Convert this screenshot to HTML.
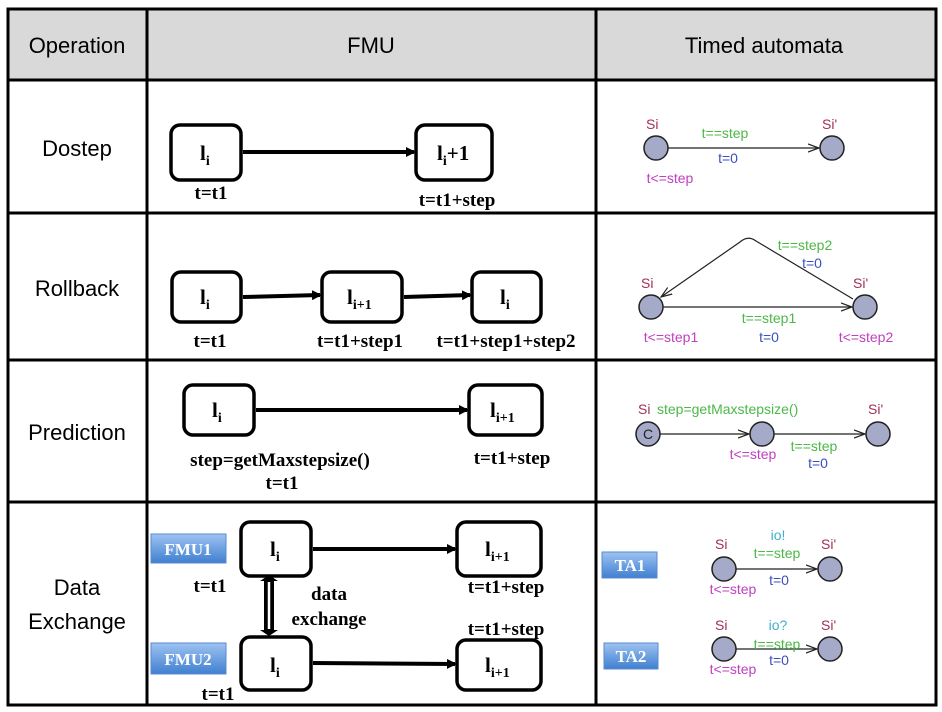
<!DOCTYPE html>
<html><head><meta charset="utf-8"><style>
html,body{margin:0;padding:0;background:#fff;}
svg{display:block;}
.h{font-family:"Liberation Sans",sans-serif;font-size:22px;fill:#000;}
.s{font-family:"Liberation Serif",serif;font-weight:bold;font-size:19px;fill:#000;}
.b{font-family:"Liberation Serif",serif;font-weight:bold;font-size:21px;fill:#000;}
.sub{font-size:14px;}
.ta{font-family:"Liberation Sans",sans-serif;font-size:14px;}
.r{fill:#a0305a;} .g{fill:#4cb848;} .bl{fill:#3a4fc0;} .p{fill:#c040c0;} .c{fill:#40b0c8;}
.box{fill:#fff;stroke:#000;stroke-width:3.5;}
.ar{stroke:#000;stroke-width:4;fill:none;}
.st{fill:#a4aac8;stroke:#222;stroke-width:1.5;}
.tl{stroke:#222;stroke-width:1.2;fill:none;}
.lab{font-family:"Liberation Serif",serif;font-weight:bold;font-size:17px;fill:#fff;}
</style></head><body>
<svg width="942" height="712" viewBox="0 0 942 712" xmlns="http://www.w3.org/2000/svg">
<defs>
<marker id="ah" markerWidth="10" markerHeight="10" refX="8" refY="5" orient="auto" markerUnits="userSpaceOnUse"><path d="M0,0 L10,5 L0,10 z" fill="#000"/></marker>
<marker id="ta" markerWidth="12" markerHeight="10" refX="11" refY="5" orient="auto" markerUnits="userSpaceOnUse"><path d="M0,1 L11,5 L0,9" fill="none" stroke="#222" stroke-width="1.2"/></marker>
<linearGradient id="bg" x1="0" y1="0" x2="0" y2="1"><stop offset="0" stop-color="#9ec3f2"/><stop offset="1" stop-color="#3f7fd0"/></linearGradient>
</defs>
<rect x="8" y="9" width="928" height="71" fill="#d9d9d9"/>
<g stroke="#000" stroke-width="3" fill="none">
<rect x="8" y="9" width="928" height="696"/>
<line x1="147" y1="9" x2="147" y2="705"/>
<line x1="596" y1="9" x2="596" y2="705"/>
<line x1="8" y1="80" x2="936" y2="80"/>
<line x1="8" y1="213" x2="936" y2="213"/>
<line x1="8" y1="360" x2="936" y2="360"/>
<line x1="8" y1="502" x2="936" y2="502"/>
</g>
<text class="h" x="77" y="53" text-anchor="middle">Operation</text>
<text class="h" x="371" y="53" text-anchor="middle">FMU</text>
<text class="h" x="764" y="53" text-anchor="middle">Timed automata</text>
<text class="h" x="77" y="156" text-anchor="middle">Dostep</text>
<text class="h" x="77" y="296" text-anchor="middle">Rollback</text>
<text class="h" x="77" y="440" text-anchor="middle">Prediction</text>
<text class="h" x="77" y="595" text-anchor="middle">Data</text>
<text class="h" x="77" y="629" text-anchor="middle">Exchange</text>

<!-- Dostep FMU -->
<rect class="box" x="171" y="125" width="70" height="55" rx="9"/>
<rect class="box" x="416" y="125" width="76" height="55" rx="9"/>
<line class="ar" x1="243" y1="152" x2="414" y2="152" marker-end="url(#ah)"/>
<text class="b" x="200" y="160">l<tspan class="sub" dy="5">i</tspan></text>
<text class="b" x="437" y="160">l<tspan class="sub" dy="5">i</tspan><tspan dy="-5">+1</tspan></text>
<text class="s" x="211" y="199" text-anchor="middle">t=t1</text>
<text class="s" x="457" y="206" text-anchor="middle">t=t1+step</text>

<!-- Rollback FMU -->
<rect class="box" x="172" y="272" width="69" height="50" rx="9"/>
<rect class="box" x="322" y="272" width="80" height="50" rx="9"/>
<rect class="box" x="472" y="272" width="69" height="50" rx="9"/>
<line class="ar" x1="243" y1="297" x2="320" y2="295" marker-end="url(#ah)"/>
<line class="ar" x1="404" y1="297" x2="470" y2="295" marker-end="url(#ah)"/>
<text class="b" x="200" y="304">l<tspan class="sub" dy="5">i</tspan></text>
<text class="b" x="347" y="304">l<tspan class="sub" dy="5">i+1</tspan></text>
<text class="b" x="500" y="304">l<tspan class="sub" dy="5">i</tspan></text>
<text class="s" x="210" y="347" text-anchor="middle">t=t1</text>
<text class="s" x="360" y="347" text-anchor="middle">t=t1+step1</text>
<text class="s" x="506" y="347" text-anchor="middle">t=t1+step1+step2</text>

<!-- Prediction FMU -->
<rect class="box" x="184" y="385" width="70" height="50" rx="9"/>
<rect class="box" x="469" y="385" width="73" height="50" rx="9"/>
<line class="ar" x1="256" y1="410" x2="467" y2="410" marker-end="url(#ah)"/>
<text class="b" x="212" y="417">l<tspan class="sub" dy="5">i</tspan></text>
<text class="b" x="490" y="417">l<tspan class="sub" dy="5">i+1</tspan></text>
<text class="s" x="280" y="466" text-anchor="middle">step=getMaxstepsize()</text>
<text class="s" x="282" y="489" text-anchor="middle">t=t1</text>
<text class="s" x="512" y="464" text-anchor="middle">t=t1+step</text>

<!-- Data exchange FMU -->
<rect x="151" y="534" width="75" height="29" fill="url(#bg)" stroke="#5a8ad0"/>
<text class="lab" x="188" y="555" text-anchor="middle">FMU1</text>
<rect x="151" y="643" width="75" height="31" fill="url(#bg)" stroke="#5a8ad0"/>
<text class="lab" x="188" y="665" text-anchor="middle">FMU2</text>
<rect class="box" x="241" y="522" width="70" height="54" rx="9"/>
<rect class="box" x="457" y="522" width="84" height="54" rx="9"/>
<rect class="box" x="241" y="637" width="70" height="53" rx="9"/>
<rect class="box" x="457" y="640" width="84" height="50" rx="9"/>
<line class="ar" x1="313" y1="549" x2="455" y2="549" marker-end="url(#ah)"/>
<line class="ar" x1="313" y1="663" x2="455" y2="664" marker-end="url(#ah)"/>
<text class="b" x="270" y="556">l<tspan class="sub" dy="5">i</tspan></text>
<text class="b" x="485" y="556">l<tspan class="sub" dy="5">i+1</tspan></text>
<text class="b" x="270" y="672">l<tspan class="sub" dy="5">i</tspan></text>
<text class="b" x="485" y="672">l<tspan class="sub" dy="5">i+1</tspan></text>
<g fill="#000"><path d="M260,581 L269,575 L278,581 L274,581 L274,630 L278,630 L269,636 L260,630 L264,630 L264,581 z"/></g>
<line x1="269" y1="582" x2="269" y2="629" stroke="#fff" stroke-width="2.5"/>
<text class="s" x="210" y="592" text-anchor="middle">t=t1</text>
<text class="s" x="218" y="700" text-anchor="middle">t=t1</text>
<text class="s" x="329" y="600" text-anchor="middle">data</text>
<text class="s" x="329" y="625" text-anchor="middle">exchange</text>
<text class="s" x="506" y="593" text-anchor="middle">t=t1+step</text>
<text class="s" x="506" y="635" text-anchor="middle">t=t1+step</text>

<!-- TA Dostep -->
<line class="tl" x1="668" y1="148" x2="819" y2="148" marker-end="url(#ta)"/>
<circle class="st" cx="656" cy="148" r="12"/>
<circle class="st" cx="832" cy="148" r="12"/>
<text class="ta r" x="646" y="129">Si</text>
<text class="ta r" x="822" y="129">Si'</text>
<text class="ta g" x="725" y="138" text-anchor="middle">t==step</text>
<text class="ta bl" x="728" y="163" text-anchor="middle">t=0</text>
<text class="ta p" x="670" y="183" text-anchor="middle">t&lt;=step</text>

<!-- TA Rollback -->
<line class="tl" x1="663" y1="307" x2="852" y2="307" marker-end="url(#ta)"/>
<path class="tl" d="M853,299 L756,241 Q748,235 740,242 L661,297" marker-end="url(#ta)"/>
<circle class="st" cx="651" cy="307" r="12"/>
<circle class="st" cx="865" cy="307" r="12"/>
<text class="ta r" x="641" y="288">Si</text>
<text class="ta r" x="853" y="288">Si'</text>
<text class="ta g" x="805" y="250" text-anchor="middle">t==step2</text>
<text class="ta bl" x="812" y="268" text-anchor="middle">t=0</text>
<text class="ta g" x="769" y="323" text-anchor="middle">t==step1</text>
<text class="ta bl" x="769" y="342" text-anchor="middle">t=0</text>
<text class="ta p" x="671" y="342" text-anchor="middle">t&lt;=step1</text>
<text class="ta p" x="866" y="342" text-anchor="middle">t&lt;=step2</text>

<!-- TA Prediction -->
<line class="tl" x1="660" y1="434" x2="749" y2="434" marker-end="url(#ta)"/>
<line class="tl" x1="774" y1="434" x2="865" y2="434" marker-end="url(#ta)"/>
<circle class="st" cx="648" cy="434" r="12"/>
<text class="ta" x="648" y="439" text-anchor="middle" fill="#222">C</text>
<circle class="st" cx="762" cy="434" r="12"/>
<circle class="st" cx="878" cy="434" r="12"/>
<text class="ta r" x="638" y="414">Si</text>
<text class="ta g" x="657" y="414">step=getMaxstepsize()</text>
<text class="ta r" x="868" y="414">Si'</text>
<text class="ta p" x="753" y="459" text-anchor="middle">t&lt;=step</text>
<text class="ta g" x="814" y="451" text-anchor="middle">t==step</text>
<text class="ta bl" x="818" y="468" text-anchor="middle">t=0</text>

<!-- TA data exchange -->
<rect x="602" y="552" width="55" height="26" fill="url(#bg)" stroke="#5a8ad0"/>
<text class="lab" x="630" y="571" text-anchor="middle">TA1</text>
<rect x="604" y="643" width="54" height="26" fill="url(#bg)" stroke="#5a8ad0"/>
<text class="lab" x="631" y="662" text-anchor="middle">TA2</text>
<line class="tl" x1="736" y1="569" x2="817" y2="569" marker-end="url(#ta)"/>
<circle class="st" cx="724" cy="569" r="12"/>
<circle class="st" cx="830" cy="569" r="12"/>
<text class="ta r" x="715" y="549">Si</text>
<text class="ta r" x="821" y="549">Si'</text>
<text class="ta c" x="778" y="540" text-anchor="middle">io!</text>
<text class="ta g" x="777" y="558" text-anchor="middle">t==step</text>
<text class="ta bl" x="779" y="585" text-anchor="middle">t=0</text>
<text class="ta p" x="733" y="594" text-anchor="middle">t&lt;=step</text>
<line class="tl" x1="736" y1="649" x2="817" y2="649" marker-end="url(#ta)"/>
<circle class="st" cx="724" cy="649" r="12"/>
<circle class="st" cx="830" cy="649" r="12"/>
<text class="ta r" x="715" y="630">Si</text>
<text class="ta r" x="821" y="630">Si'</text>
<text class="ta c" x="778" y="630" text-anchor="middle">io?</text>
<text class="ta g" x="777" y="649" text-anchor="middle">t==step</text>
<text class="ta bl" x="779" y="665" text-anchor="middle">t=0</text>
<text class="ta p" x="733" y="674" text-anchor="middle">t&lt;=step</text>
</svg>
</body></html>
